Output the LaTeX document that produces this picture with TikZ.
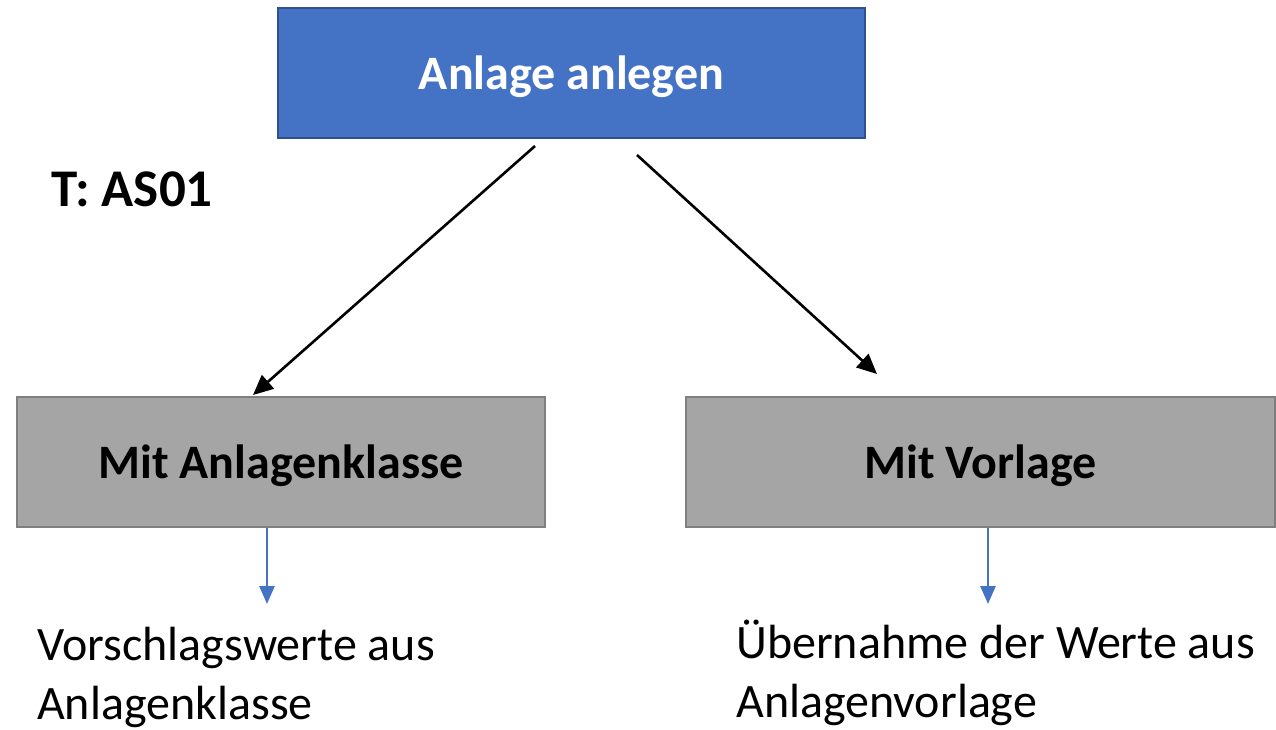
\documentclass[tikz,border=0pt]{standalone}
\usepackage{fontspec}
\setmainfont{Carlito}
\usetikzlibrary{arrows.meta}
\definecolor{boxblue}{HTML}{4472C4}
\definecolor{boxblueline}{HTML}{2F528F}
\definecolor{boxgray}{HTML}{A5A5A5}
\definecolor{boxgrayline}{HTML}{7F7F7F}
\tikzset{
  boxtext/.style={font=\fontsize{48}{57}\selectfont\bfseries, text height=40pt, text depth=8pt},
  bluebox/.style={boxtext, draw=boxblueline, fill=boxblue, line width=2pt, text=white},
  graybox/.style={boxtext, draw=boxgrayline, fill=boxgray, line width=2pt, text=black},
  mainarrow/.style={-{Triangle[length=20pt,width=18pt]}, line width=2.6pt, black},
  subarrow/.style={-{Triangle[length=18pt,width=15pt]}, line width=2.6pt, boxblue},
  resulttext/.style={font=\fontsize{48}{59}\selectfont, align=left, anchor=base west, inner sep=0pt}
}
\begin{document}
\begin{tikzpicture}[x=1pt,y=-1pt]
\useasboundingbox (0,0) rectangle (1276,729);
\node[bluebox, minimum width=587pt, minimum height=130pt] (top) at (571.5,73) {Anlage anlegen};
\node[graybox, minimum width=528pt, minimum height=130pt] (left) at (281,462) {Mit Anlagenklasse};
\node[graybox, minimum width=589pt, minimum height=130pt] (right) at (980.5,462) {Mit Vorlage};
\node[font=\fontsize{53}{60}\selectfont\bfseries, anchor=base west, inner sep=0pt] (tcode) at (51,206) {T: AS01};
\coordinate (s1) at (535,146);
\coordinate (e1) at (253,395);
\coordinate (s2) at (637,155);
\coordinate (e2) at (877,374);
\draw[mainarrow] (s1) -- (e1);
\draw[mainarrow] (s2) -- (e2);
\node[resulttext] (ltext) at (37,719) {Vorschlagswerte aus\\Anlagenklasse};
\node[resulttext] (rtext) at (736,717) {Übernahme der Werte aus\\Anlagenvorlage};
\coordinate (b1) at (267,604);
\coordinate (b2) at (988,604);
\draw[subarrow] (left.south -| b1) -- (b1);
\draw[subarrow] (right.south -| b2) -- (b2);
\end{tikzpicture}
\end{document}
